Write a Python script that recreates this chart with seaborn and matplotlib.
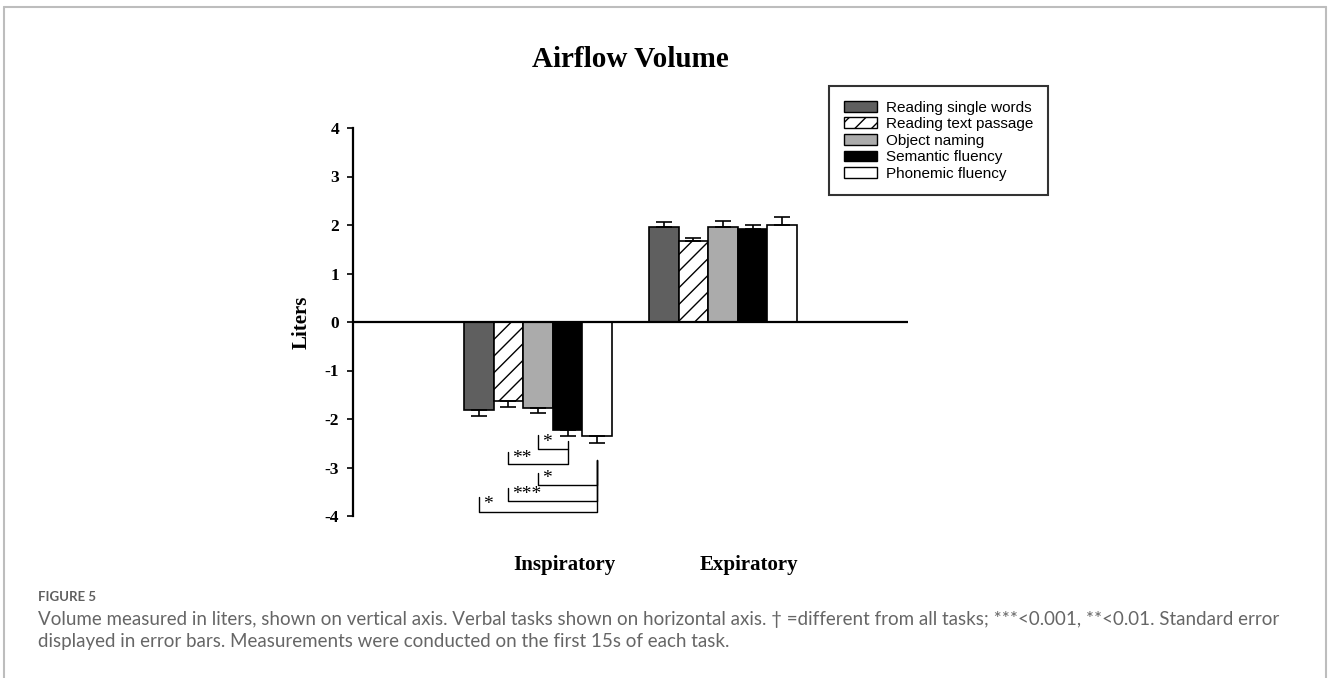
import numpy as np
import pandas as pd
import seaborn as sns
import matplotlib.pyplot as plt
import matplotlib.patches as mpatches
from matplotlib.lines import Line2D

sns.set_style('white')
plt.rcParams['hatch.linewidth'] = 1.0
plt.rcParams['text.color'] = 'black'
plt.rcParams['axes.labelcolor'] = 'black'
plt.rcParams['xtick.color'] = 'black'
plt.rcParams['ytick.color'] = 'black'

# data
phases = ['Inspiratory', 'Expiratory']
tasks = ['Reading single words', 'Reading text passage', 'Object naming',
         'Semantic fluency', 'Phonemic fluency']
insp_mean = [-1.81, -1.62, -1.77, -2.23, -2.35]
insp_se = [0.12, 0.13, 0.11, 0.12, 0.14]
exp_mean = [1.96, 1.66, 1.96, 1.91, 2.01]
exp_se = [0.10, 0.08, 0.13, 0.10, 0.16]

colors = ['#5f5f5f', '#ffffff', '#ababab', '#000000', '#ffffff']
hatches = ['', '//', '', '', '']

# significance brackets on inspiratory bars:
# (left bar, right bar, left top, bottom, right top, label)
brackets = [
    (2, 3, -2.33, -2.62, -2.45, '*'),
    (1, 3, -2.68, -2.93, -2.62, '**'),
    (2, 4, -3.11, -3.36, -2.85, '*'),
    (1, 4, -3.42, -3.69, -2.85, '***'),
    (0, 4, -3.61, -3.92, -2.85, '*'),
]

caption1 = ('Volume measured in liters, shown on vertical axis. Verbal tasks shown on horizontal axis. '
            '\u2020 =different from all tasks; ***<0.001, **<0.01. Standard error')
caption2 = 'displayed in error bars. Measurements were conducted on the first 15s of each task.'

df = pd.DataFrame({
    'phase': [phases[0]] * 5 + [phases[1]] * 5,
    'task': tasks + tasks,
    'value': insp_mean + exp_mean,
})

W, H = 1328, 678
fig = plt.figure(figsize=(W / 100, H / 100), dpi=100)
ax = fig.add_axes([353 / W, 1 - 516 / H, 555 / W, 388 / H])

sns.barplot(data=df, x='phase', y='value', hue='task', order=phases, hue_order=tasks,
            palette=colors, edgecolor='black', linewidth=1.2, width=0.8,
            errorbar=None, legend=False, ax=ax, saturation=1)

bar_containers = list(ax.containers)
centers = {}
for i, cont in enumerate(bar_containers):
    for j, bar in enumerate(cont):
        bar.set_hatch(hatches[i])
        bar.set_facecolor(colors[i])
        x = bar.get_x() + bar.get_width() / 2
        centers[(i, j)] = x
        h = bar.get_height()
        se = insp_se[i] if j == 0 else exp_se[i]
        err = [[se], [0]] if h < 0 else [[0], [se]]
        ax.errorbar(x, h, yerr=err, fmt='none', ecolor='black', elinewidth=1.2,
                    capsize=6, capthick=1.2, zorder=1)

for li, ri, ltop, bot, rtop, lab in brackets:
    xl, xr = centers[(li, 0)], centers[(ri, 0)]
    ax.plot([xl, xl, xr, xr], [ltop, bot, bot, rtop], color='black', lw=1.0)
    ax.text(xl + 0.022, (ltop + bot) / 2, lab, ha='left', va='center',
            fontsize=14, family='Liberation Serif')

ax.axhline(0, color='black', lw=1.6, zorder=3)
ax.set_xlim(-1, 2)
ax.set_ylim(-4, 4)
ax.set_yticks(range(-4, 5))
ax.set_yticklabels([str(v) for v in range(-4, 5)], fontsize=12.5,
                   family='Liberation Serif', fontweight='bold')
ax.set_xticks(np.arange(len(phases)) + 0.14)
ax.set_xticklabels(phases, fontsize=15, family='Liberation Serif', fontweight='bold')
ax.tick_params(axis='x', length=0, pad=28)
ax.tick_params(axis='y', length=4, width=1.2, direction='out', left=True, pad=6, colors='black')
ax.set_xlabel('')
ax.set_ylabel('Liters', fontsize=15, family='Liberation Serif', fontweight='bold')
ax.yaxis.set_label_coords(-0.075, 0.5)
for s in ['top', 'right', 'bottom']:
    ax.spines[s].set_visible(False)
ax.spines['left'].set_linewidth(1.6)
ax.spines['left'].set_color('black')

fig.text(0.4748, 1 - 67 / H, 'Airflow Volume', ha='center', va='baseline',
         fontsize=21, family='Liberation Serif', fontweight='bold', color='black')

handles = [mpatches.Patch(facecolor=colors[i], edgecolor='black', hatch=hatches[i], lw=1.0)
           for i in range(len(tasks))]
leg = ax.legend(handles, tasks, loc='upper left', bbox_to_anchor=(829 / W, 1 - 86 / H),
                bbox_transform=fig.transFigure, fancybox=False, frameon=True,
                prop={'family': 'Liberation Sans', 'size': 11}, labelspacing=0.17,
                handlelength=2.2, handleheight=0.72, handletextpad=0.6,
                borderpad=0.95, borderaxespad=0)
leg.get_frame().set_edgecolor('black')
leg.get_frame().set_linewidth(1.5)
for t in leg.get_texts():
    t.set_color('black')

# caption
fig.text(38 / W, 1 - 597 / H, 'FIGURE 5', ha='left', va='center', fontsize=9.5,
         family='Lato', fontweight='bold', color='#5f5f5f')
fig.text(38 / W, 1 - 619 / H, caption1, ha='left', va='center', fontsize=13.5,
         family='Lato', color='#666666')
fig.text(38 / W, 1 - 642 / H, caption2, ha='left', va='center', fontsize=13.5,
         family='Lato', color='#666666')

# page border
bc = '#bdbdbd'
ty = 1 - 7 / H
fig.add_artist(Line2D([4 / W, 1326 / W], [ty, ty], color=bc, lw=1.5, transform=fig.transFigure))
fig.add_artist(Line2D([4 / W, 4 / W], [0, ty], color=bc, lw=1.5, transform=fig.transFigure))
fig.add_artist(Line2D([1326 / W, 1326 / W], [0, ty], color=bc, lw=1.5, transform=fig.transFigure))

fig.savefig('out.png', dpi=100)
